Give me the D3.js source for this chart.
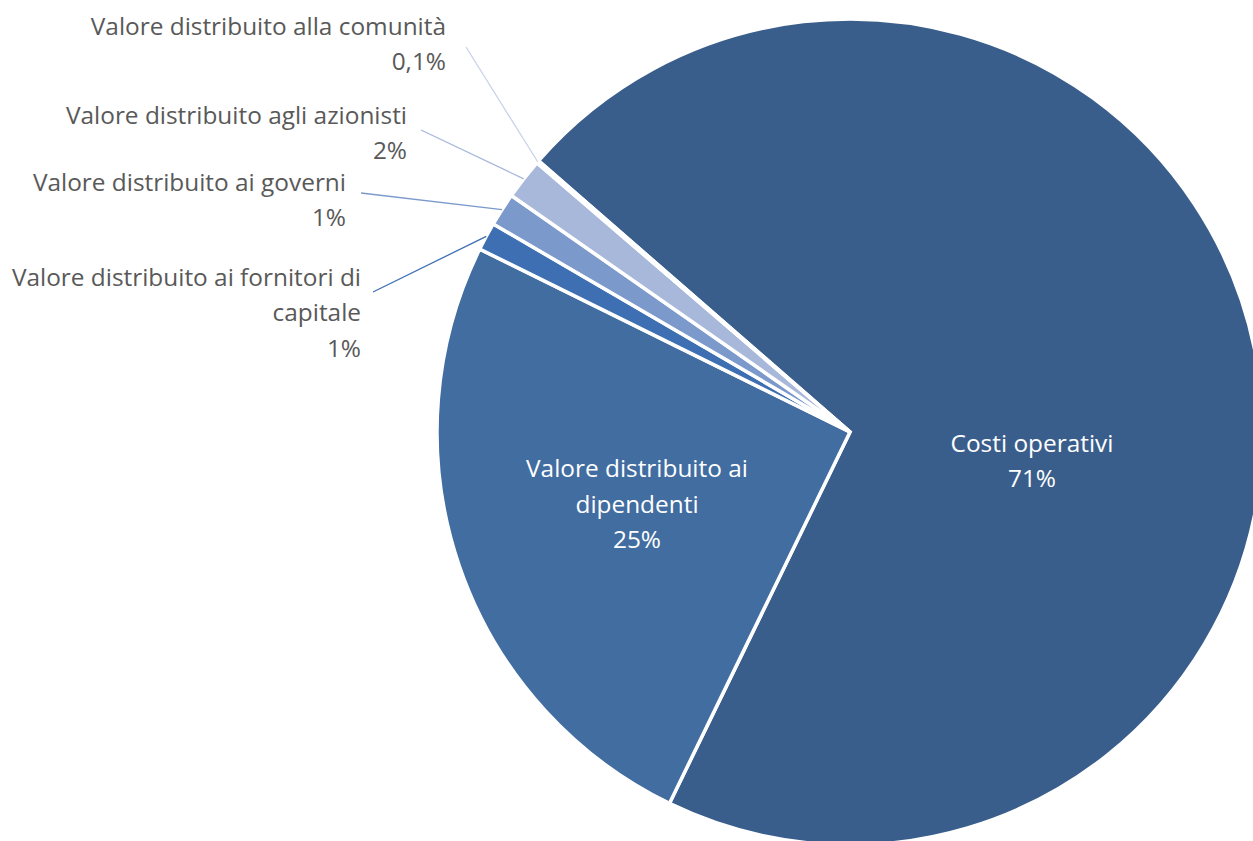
<!DOCTYPE html>
<html>
<head>
    <meta charset="utf-8" />
    <title>Valore distribuito</title>
    <style>
        body { margin: 0; background: #fff; overflow: hidden; }
        text { font-family: "Open Sans", sans-serif; }
    </style>
</head>
<body>
    <div id="chart"></div>
    <script src="https://d3js.org/d3.v7.min.js"></script>
    <script>
        // data
        var categories = [
            "Costi operativi",
            "Valore distribuito ai dipendenti",
            "Valore distribuito ai fornitori di capitale",
            "Valore distribuito ai governi",
            "Valore distribuito agli azionisti",
            "Valore distribuito alla comunità"
        ];
        var values = [70.8, 25.1, 1.1, 1.3, 1.6, 0.1];
        var valueLabels = ["71%", "25%", "1%", "1%", "2%", "0,1%"];
        // how the label text is broken in lines
        var labelLines = [
            ["Costi operativi"],
            ["Valore distribuito ai", "dipendenti"],
            ["Valore distribuito ai fornitori di", "capitale"],
            ["Valore distribuito ai governi"],
            ["Valore distribuito agli azionisti"],
            ["Valore distribuito alla comunità"]
        ];

        var colors = ["#3a5e8c", "#416da1", "#3e6fb2", "#7c99cc", "#a7b8da", "#c9d3e8"];

        // layout
        var width = 1253, height = 841;
        var cx = 850, cy = 432, radius = 413;
        var lineH = 35.5;
        var fontSize = "24.4px";
        var startDeg = -48.95;
        // inside labels: offset of the label block centre from the pie centre
        var insideLayout = { 0: [182, 29], 1: [-213, 72] };
        // outside labels: right edge, first line y, leader line start
        var outsideLayout = {
            2: { x: 361, y: 277, lx: 373, ly: 292 },
            3: { x: 346, y: 182, lx: 361, ly: 193 },
            4: { x: 407, y: 115, lx: 421, ly: 130 },
            5: { x: 446, y: 26, lx: 466, ly: 47 }
        };

        var svg = d3.select("#chart").append("svg")
            .attr("width", width)
            .attr("height", height);

        var g = svg.append("g")
            .attr("transform", `translate(${cx},${cy})`);

        var pie = d3.pie()
            .sort(null)
            .value(d => d)
            .startAngle(startDeg * Math.PI / 180)
            .endAngle(startDeg * Math.PI / 180 + 2 * Math.PI);

        var arcs = pie(values);
        var arc = d3.arc().innerRadius(0).outerRadius(radius);

        g.selectAll("path.slice")
            .data(arcs)
            .join("path")
            .attr("class", "slice")
            .attr("d", arc)
            .attr("fill", (d, i) => colors[i])
            .attr("stroke", "#fff")
            .attr("stroke-width", 3.5)
            .attr("stroke-linejoin", "miter");

        function midPoint(d, r) {
            var a = (d.startAngle + d.endAngle) / 2;
            return [r * Math.sin(a), -r * Math.cos(a)];
        }

        // inside labels
        arcs.forEach(function (d, i) {
            var p = insideLayout[i];
            if (!p) return;
            var lines = labelLines[i].concat([valueLabels[i]]);
            var t = g.append("text")
                .attr("text-anchor", "middle")
                .attr("fill", "#ffffff")
                .style("font-size", fontSize);
            var y0 = p[1] - (lines.length - 1) * lineH / 2;
            lines.forEach(function (s, k) {
                t.append("tspan")
                    .attr("x", p[0])
                    .attr("y", y0 + k * lineH)
                    .attr("dy", "0.35em")
                    .text(s);
            });
        });

        // outside labels with leader lines
        arcs.forEach(function (d, i) {
            var lay = outsideLayout[i];
            if (!lay) return;
            var p = midPoint(d, radius);
            svg.append("line")
                .attr("x1", lay.lx)
                .attr("y1", lay.ly)
                .attr("x2", cx + p[0])
                .attr("y2", cy + p[1])
                .attr("stroke", colors[i])
                .attr("stroke-width", 1.3);
            var lines = labelLines[i].concat([valueLabels[i]]);
            var t = svg.append("text")
                .attr("text-anchor", "end")
                .attr("fill", "#595959")
                .style("font-size", fontSize);
            lines.forEach(function (s, k) {
                t.append("tspan")
                    .attr("x", lay.x)
                    .attr("y", lay.y + k * lineH)
                    .attr("dy", "0.35em")
                    .text(s);
            });
        });
    </script>
</body>
</html>
